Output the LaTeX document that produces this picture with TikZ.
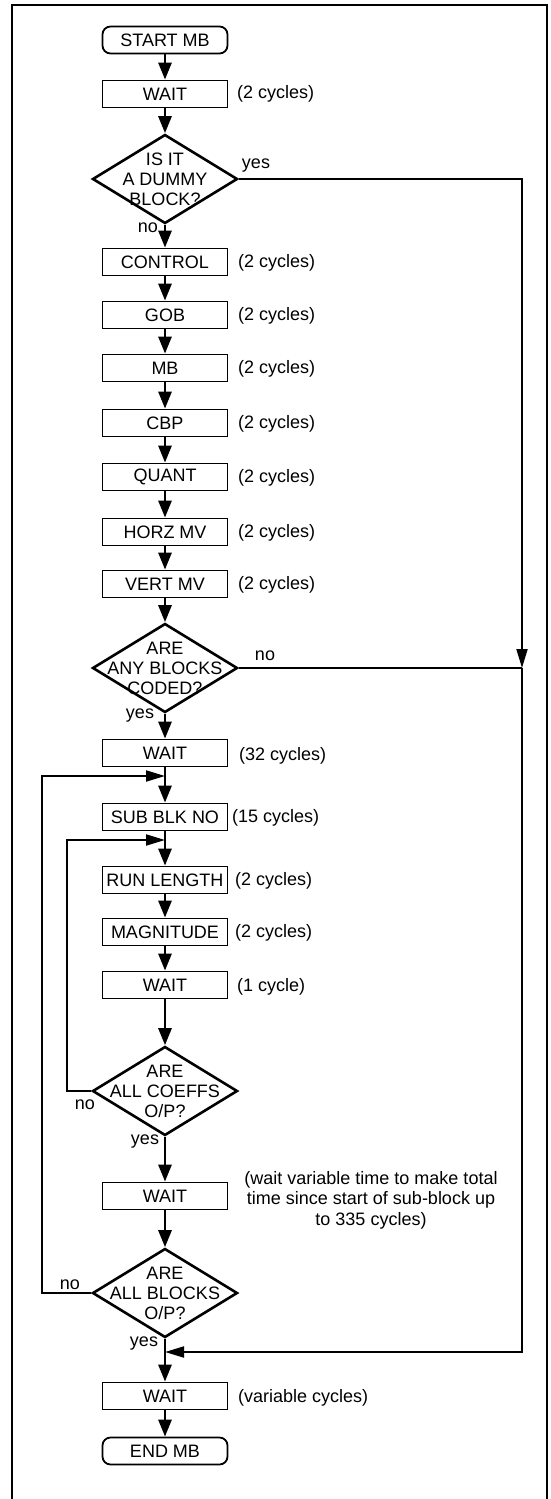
\documentclass[tikz,border=0pt]{standalone}
\usepackage{fontspec}
\setmainfont{Liberation Sans}
\usetikzlibrary{shapes.geometric,arrows.meta,positioning}

\begin{document}
\begin{tikzpicture}[x=1pt,y=-1pt,>={Triangle[length=17pt,width=13pt]},
  font=\fontsize{18}{20}\selectfont,
  box/.style={draw, line width=1.8pt, minimum width=125pt, minimum height=27pt, inner sep=0pt},
  term/.style={box, rounded corners=8pt},
  decision/.style={draw, diamond, line width=2.6pt, minimum width=145pt, minimum height=89pt, inner sep=0pt},
  cyc/.style={anchor=west, inner sep=0pt},
  lbl/.style={inner sep=0pt},
  flow/.style={->, line width=2.8pt},
  back/.style={line width=2pt, >={Triangle[length=19pt,width=11pt]}}]
\useasboundingbox (0,0) rectangle (551,1499);
\draw[line width=1.8pt] (12,1499) -- (12,5) -- (547,5) -- (547,1499);

\node[term] (start) at (165,40) {START MB};
\node[box] (w1) at (165,94) {WAIT};
\node[cyc] (w1c) at (237,94) {(2 cycles)};

\node[decision] (d1) at (165,179) {};
\node[align=center] (d1t) at (165,179) {IS IT\\A DUMMY\\BLOCK?};
\node[lbl] (d1y) at (256,166) {yes};
\node[lbl] (d1n) at (148,228) {no};

\node[box] (ctrl) at (165,262) {CONTROL};
\node[cyc] (ctrlc) at (238,263) {(2 cycles)};
\node[box] (gob) at (165,315) {GOB};
\node[cyc] (gobc) at (238,316) {(2 cycles)};
\node[box] (mb) at (165,368) {MB};
\node[cyc] (mbc) at (238,369) {(2 cycles)};
\node[box] (cbp) at (165,423) {CBP};
\node[cyc] (cbpc) at (238,424) {(2 cycles)};
\node[box] (quant) at (165,477) {QUANT};
\node[cyc] (quantc) at (238,478) {(2 cycles)};
\node[box] (horz) at (165,532) {HORZ MV};
\node[cyc] (horzc) at (238,533) {(2 cycles)};
\node[box] (vert) at (165,584) {VERT MV};
\node[cyc] (vertc) at (238,585) {(2 cycles)};

\node[decision] (d2) at (165,668) {};
\node[align=center] (d2t) at (165,668) {ARE\\ANY BLOCKS\\CODED?};
\node[lbl] (d2n) at (265,656) {no};
\node[lbl] (d2y) at (140,716) {yes};

\node[box] (w2) at (165,753) {WAIT};
\node[cyc] (w2c) at (239,756) {(32 cycles)};
\node[box] (sub) at (165,817) {SUB BLK NO};
\node[cyc] (subc) at (232,818) {(15 cycles)};
\node[box] (run) at (165,880) {RUN LENGTH};
\node[cyc] (runc) at (235,881) {(2 cycles)};
\node[box] (mag) at (165,932) {MAGNITUDE};
\node[cyc] (magc) at (235,933) {(2 cycles)};
\node[box] (w3) at (165,985) {WAIT};
\node[cyc] (w3c) at (237,987) {(1 cycle)};

\node[decision] (d3) at (165,1091) {};
\node[align=center] (d3t) at (165,1091) {ARE\\ALL COEFFS\\O/P?};
\node[lbl] (d3n) at (85,1105) {no};
\node[lbl] (d3y) at (145,1142) {yes};

\node[box] (w4) at (165,1196) {WAIT};
\node[align=center, font=\fontsize{18}{20.5}\selectfont] (w4c) at (371,1200) {(wait variable time to make total\\time since start of sub-block up\\to 335 cycles)};

\node[decision] (d4) at (165,1293) {};
\node[align=center] (d4t) at (165,1293) {ARE\\ALL BLOCKS\\O/P?};
\node[lbl] (d4n) at (70,1285) {no};
\node[lbl] (d4y) at (144,1344) {yes};

\node[box] (w5) at (165,1396) {WAIT};
\node[cyc] (w5c) at (238,1398) {(variable cycles)};
\node[term] (end) at (165,1451) {END MB};

\coordinate (jn) at (522,668);
\coordinate (rj) at (165,1352);
\coordinate (l1) at (42,776);
\coordinate (l1j) at (165,776);
\coordinate (l2) at (67,840);
\coordinate (l2j) at (165,840);

\draw[flow] (start) -- (w1);
\draw[flow] (w1) -- (d1);
\draw[flow] (d1) -- (ctrl);
\draw[flow] (ctrl) -- (gob);
\draw[flow] (gob) -- (mb);
\draw[flow] (mb) -- (cbp);
\draw[flow] (cbp) -- (quant);
\draw[flow] (quant) -- (horz);
\draw[flow] (horz) -- (vert);
\draw[flow] (vert) -- (d2);
\draw[flow] (d2) -- (w2);
\draw[flow] (w2) -- (sub);
\draw[flow] (sub) -- (run);
\draw[flow] (run) -- (mag);
\draw[flow] (mag) -- (w3);
\draw[flow] (w3) -- (d3);
\draw[flow] (d3) -- (w4);
\draw[flow] (w4) -- (d4);
\draw[flow] (d4) -- (w5);
\draw[flow] (w5) -- (end);

\draw[back,->] (d1.east) -| (jn);
\draw[back] (d2.east) -- (jn);
\draw[back,->] (jn) |- (rj);
\draw[back,->] (d3.west) -| (l2) -- (l2j);
\draw[back,->] (d4.west) -| (l1) -- (l1j);
\end{tikzpicture}
\end{document}
